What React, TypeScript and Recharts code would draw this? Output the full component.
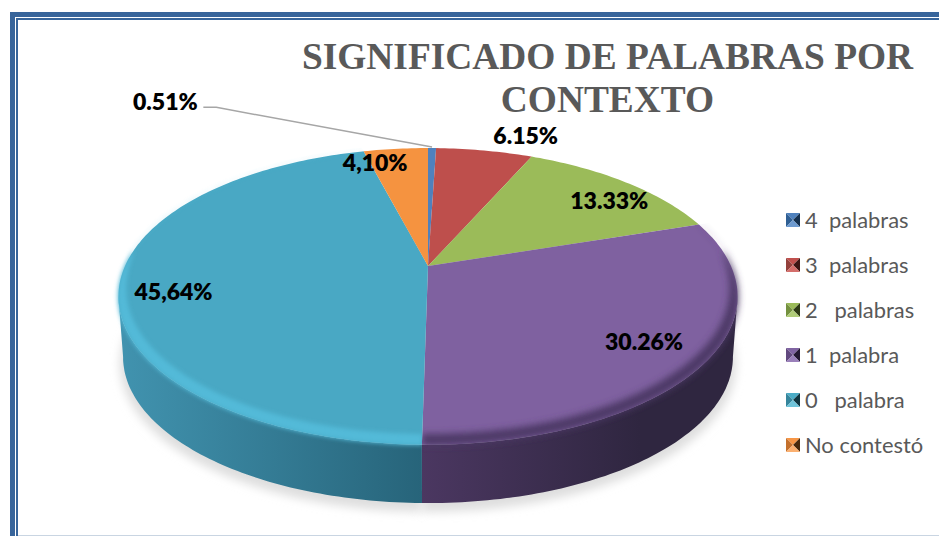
import React from "react";
import { PieChart, Pie, Legend } from "recharts";

const categories = ["4  palabras", "3  palabras", "2   palabras", "1  palabra", "0   palabra", "No contestó"];
const percentages = [0.51, 6.15, 13.33, 30.26, 45.64, 4.1];
const valueLabels = ["0.51%", "6.15%", "13.33%", "30.26%", "45,64%", "4,10%"];
const sliceColors = ["#4f81bd", "#be4f4c", "#9bbb59", "#7f61a0", "#49a8c4", "#f59340"];
const wallStops = [
  ["#2f5a8a", "#2f5a8a"],
  ["#7d3331", "#7d3331"],
  ["#647a39", "#647a39"],
  ["#4b3761", "#2f2640"],
  ["#4193af", "#27647a"],
  ["#a86028", "#a86028"],
];
const rimColors = ["", "", "", "#4c3965", "#52bad8", ""];
const rimBlur = ["", "", "", "softRimWide", "softRim", ""];
const legendShades = [
  ["#4f81bd", "#2f5f94", "#14304f", "#6d9ad0"],
  ["#c0504d", "#94403c", "#3c1513", "#d46e6b"],
  ["#9bbb59", "#74913f", "#2d3a15", "#b0cc78"],
  ["#8064a2", "#62497f", "#241832", "#9a80ba"],
  ["#4bacc6", "#35859c", "#0f3540", "#6fc4da"],
  ["#f79646", "#c4702c", "#4a2a0c", "#fbb070"],
];
// label offsets from the slice's reference point
const labelNudges = [
  [-266, -67],
  [51, -35],
  [19, 3],
  [0, 0],
  [-9, 11],
  [-26, -7],
];

const pieData = categories.map((name, i) => ({ name, value: percentages[i], fill: sliceColors[i] }));

const CX = 428;
const CY = 266;
const RADIUS = 303;
// disc silhouette: the wall only shows between these two angles
const WALL_FROM = 101.83;
const WALL_TO = 258.17;

// tilted disc: unit circle angle (clockwise from top) to screen point
const project = (cx: number, cy: number, R: number, theta: number, r = 1, scale = 1, dy = 0) => {
  const t = (theta * Math.PI) / 180;
  const u = Math.sin(t) * r;
  const v = Math.cos(t) * r;
  const w = 1 + 0.205 * v;
  return [cx + (R * scale * u) / w, cy + dy - (R * 0.469 * scale * v) / w];
};

const arc = (from: number, to: number, fn: (theta: number) => number[]) => {
  const pts: number[][] = [];
  for (let a = from; a < to; a += 1) pts.push(fn(a));
  pts.push(fn(to));
  return pts;
};

const toPath = (pts: number[][]) => "M" + pts.map((p) => p[0].toFixed(1) + " " + p[1].toFixed(1)).join("L") + "Z";

const range = (props: any) => [90 - props.startAngle, 90 - props.endAngle];

const ShadowSlice = (props: any) => {
  const [a, b] = range(props);
  const { cx, cy, outerRadius: R } = props;
  const pts = arc(a, b, (t) => project(cx, cy, R, t, 1, 0.995, 68));
  return <path d={toPath([[cx, cy + 68], ...pts])} fill="#dedede" filter="url(#softShadow)" />;
};

const WallSlice = (props: any) => {
  const [start, end] = range(props);
  const a = Math.max(start, WALL_FROM);
  const b = Math.min(end, WALL_TO);
  if (a >= b) return <g />;
  const { cx, cy, outerRadius: R, index } = props;
  const top = arc(a, b, (t) => project(cx, cy, R, t));
  const base = arc(a, b, (t) => project(cx, cy, R, t, 1, 0.985, 61));
  return <path d={toPath([...top, ...base.reverse()])} fill={`url(#wall${index})`} />;
};

const TopSlice = (props: any) => {
  const [a, b] = range(props);
  const { cx, cy, outerRadius: R, index, fill } = props;
  const outline = toPath([[cx, cy], ...arc(a, b, (t) => project(cx, cy, R, t))]);
  const wedge = toPath([[cx, cy], ...arc(a, b, (t) => project(cx, cy, R, t, 1.04))]);
  const rimWidth = (t: number) => {
    const v = Math.cos((t * Math.PI) / 180);
    return v < 0.1 ? 0.048 * Math.sqrt((0.1 - v) / 1.1) : 0;
  };
  let rim = null;
  if (rimColors[index]) {
    const outer = arc(a, b, (t) => project(cx, cy, R, t, 1.002));
    const inner = arc(a, b, (t) => project(cx, cy, R, t, 1 - rimWidth(t)));
    rim = (
      <g clipPath={`url(#top${index})`}>
        <path d={toPath([...outer, ...inner.reverse()])} fill={rimColors[index]} filter={`url(#${rimBlur[index]})`} />
      </g>
    );
  }
  return (
    <g>
      <clipPath id={`top${index}`}>
        <path d={wedge} />
      </clipPath>
      <path d={outline} fill={fill} />
      {rim}
    </g>
  );
};

const SliceLabel = (props: any) => {
  const { cx, cy, outerRadius: R, midAngle, index } = props;
  const theta = 90 - midAngle;
  const [px, py] = project(cx, cy, R, theta, 0.8);
  const x = px + labelNudges[index][0];
  const y = py + labelNudges[index][1];
  const tip = project(cx, cy, R, theta, 1);
  return (
    <g>
      {index === 0 && (
        <polyline
          points={`${x + 38},${y + 6} ${x + 51},${y + 6} ${tip[0]},${tip[1] - 1}`}
          fill="none"
          stroke="#a6a6a6"
          strokeWidth={1.5}
        />
      )}
      <text
        x={x}
        y={y}
        textAnchor="middle"
        dominantBaseline="central"
        fontFamily="Lato"
        fontWeight={800}
        fontSize={23}
        fill="#000"
      >
        {valueLabels[index]}
      </text>
    </g>
  );
};

const LegendIcon = ({ shades }: { shades: string[] }) => (
  <svg width={14} height={14} style={{ display: "block", flex: "none" }}>
    <polygon points="0,0 14,0 7,7" fill={shades[0]} />
    <polygon points="0,0 7,7 0,14" fill={shades[1]} />
    <polygon points="14,0 14,14 7,7" fill={shades[2]} />
    <polygon points="0,14 7,7 14,14" fill={shades[3]} />
  </svg>
);

const renderLegend = () => (
  <div>
    {categories.map((name, i) => (
      <div key={name} style={{ display: "flex", alignItems: "center", height: 45 }}>
        <LegendIcon shades={legendShades[i]} />
        <span
          style={{
            marginLeft: 5,
            fontFamily: "Lato",
            fontSize: 21.9,
            lineHeight: "26px",
            color: "#595959",
            whiteSpace: "pre",
          }}
        >
          {name}
        </span>
      </div>
    ))}
  </div>
);

const frameBlue = "#38659b";

const box = (left: number, top: number, width: number, height: number, background: string): React.CSSProperties => ({
  position: "absolute",
  left,
  top,
  width,
  height,
  background,
});

export default function App() {
  return (
    <div style={{ position: "absolute", left: 0, top: 0, width: 939, height: 536, overflow: "hidden", background: "#fff" }}>
      <div style={{ ...box(10, 12, 929, 5, frameBlue), borderTopLeftRadius: 3 }} />
      <div style={box(16, 18, 923, 2, frameBlue)} />
      <div style={box(10, 12, 5, 524, frameBlue)} />
      <div style={box(16, 18, 2, 518, frameBlue)} />
      <div style={box(18, 535, 921, 1, "#c9d5e2")} />
      <div style={{ position: "absolute", left: 0, top: 0 }}>
        <PieChart width={939} height={536} margin={{ top: 0, right: 0, bottom: 0, left: 0 }}>
          <defs>
            <filter id="softShadow" x="-10%" y="-10%" width="120%" height="130%">
              <feGaussianBlur stdDeviation="5" />
            </filter>
            <filter id="softRim" x="-10%" y="-30%" width="120%" height="160%">
              <feGaussianBlur stdDeviation="2.2" />
            </filter>
            <filter id="softRimWide" x="-10%" y="-30%" width="120%" height="160%">
              <feGaussianBlur stdDeviation="3.5" />
            </filter>
            {wallStops.map((stops, i) => (
              <linearGradient key={i} id={`wall${i}`} gradientUnits="userSpaceOnUse" x1={i === 3 ? 422 : 120} y1={0} x2={i === 3 ? 640 : 422} y2={0}>
                <stop offset="0%" stopColor={stops[0]} />
                <stop offset="100%" stopColor={stops[1]} />
              </linearGradient>
            ))}
          </defs>
          <Pie
            data={pieData}
            dataKey="value"
            nameKey="name"
            cx={CX}
            cy={CY}
            outerRadius={RADIUS}
            startAngle={90}
            endAngle={-270}
            stroke="none"
            legendType="none"
            shape={ShadowSlice}
            isAnimationActive={false}
          />
          <Pie
            data={pieData}
            dataKey="value"
            nameKey="name"
            cx={CX}
            cy={CY}
            outerRadius={RADIUS}
            startAngle={90}
            endAngle={-270}
            stroke="none"
            legendType="none"
            shape={WallSlice}
            isAnimationActive={false}
          />
          <Pie
            data={pieData}
            dataKey="value"
            nameKey="name"
            cx={CX}
            cy={CY}
            outerRadius={RADIUS}
            startAngle={90}
            endAngle={-270}
            stroke="none"
            shape={TopSlice}
            label={SliceLabel}
            labelLine={false}
            isAnimationActive={false}
          />
          <Legend content={renderLegend} wrapperStyle={{ position: "absolute", left: 786, top: 197, width: 152, bottom: "auto" }} />
        </PieChart>
      </div>
      <div
        style={{
          position: "absolute",
          left: 280,
          top: 35,
          width: 655,
          textAlign: "center",
          fontFamily: "'Liberation Serif'",
          fontWeight: 700,
          fontSize: 37.4,
          lineHeight: "43px",
          color: "#595959",
        }}
      >
        SIGNIFICADO DE PALABRAS POR
        <br />
        CONTEXTO
      </div>
    </div>
  );
}
